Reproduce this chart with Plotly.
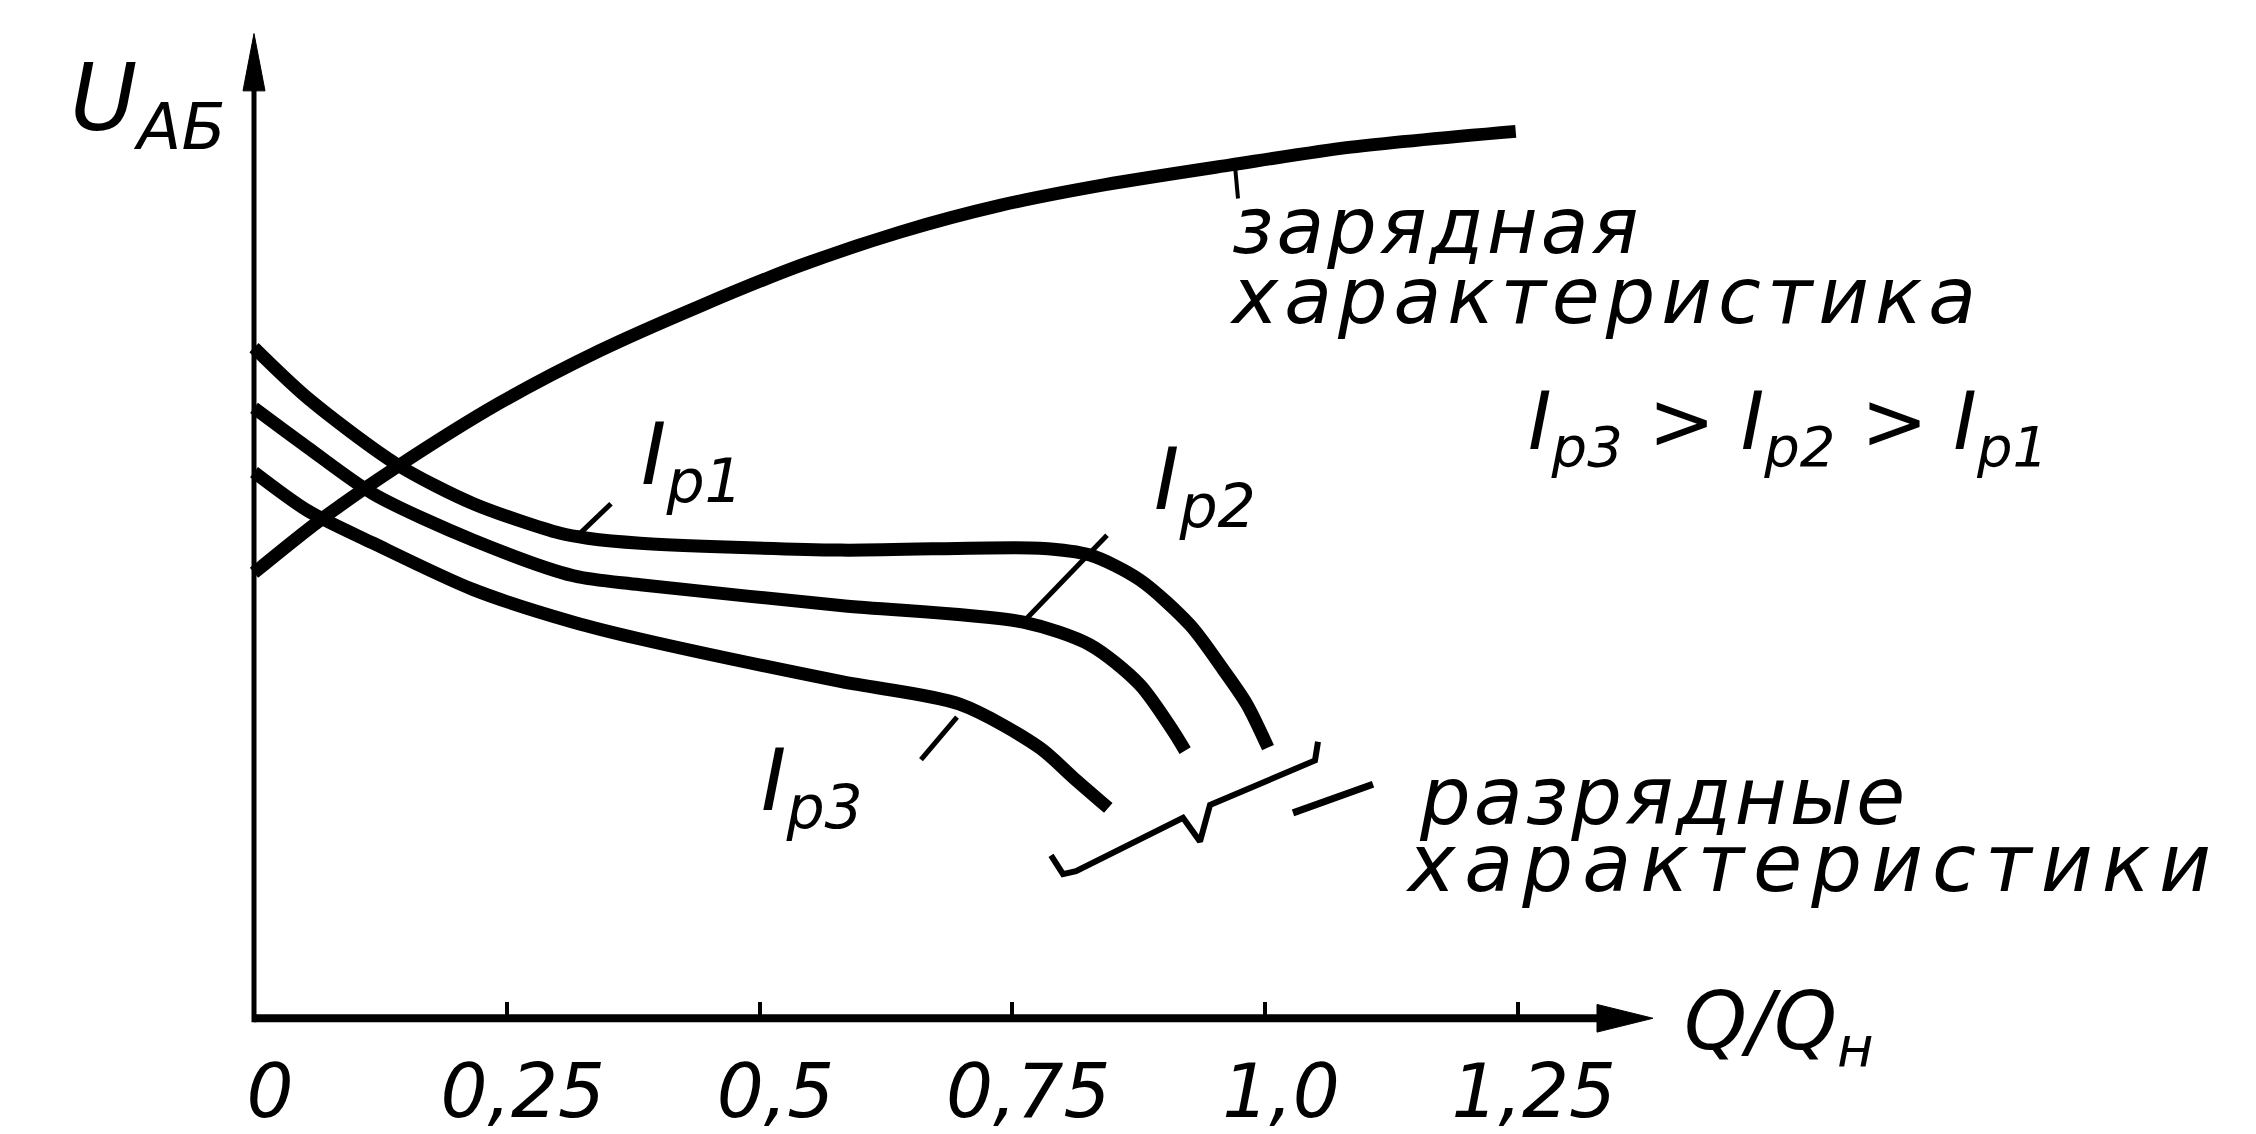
import plotly.graph_objects as go

# ---------------- data ----------------
# x: Q/Qн (relative charge), y: U_АБ in relative units (axis has no scale)
charge_q = [0.0, 0.065, 0.141, 0.243, 0.342, 0.441, 0.540, 0.639, 0.738, 0.842, 0.966, 1.085, 1.248]
charge_u = [4.51, 5.04, 5.58, 6.23, 6.76, 7.21, 7.62, 7.96, 8.23, 8.44, 8.64, 8.82, 8.98]

ip1_q = [0.0, 0.053, 0.141, 0.217, 0.303, 0.33, 0.382, 0.58, 0.777, 0.827, 0.876, 0.926, 0.958, 0.982, 1.003]
ip1_u = [6.79, 6.28, 5.61, 5.21, 4.91, 4.86, 4.81, 4.74, 4.76, 4.69, 4.44, 3.98, 3.54, 3.18, 2.74]

ip2_q = [0.0, 0.053, 0.118, 0.217, 0.316, 0.382, 0.58, 0.761, 0.827, 0.876, 0.909, 0.921]
ip2_u = [6.18, 5.78, 5.31, 4.84, 4.48, 4.39, 4.18, 4.01, 3.78, 3.38, 2.91, 2.71]

ip3_q = [0.0, 0.053, 0.118, 0.217, 0.316, 0.382, 0.58, 0.698, 0.777, 0.81, 0.845]
ip3_u = [5.53, 5.14, 4.81, 4.34, 4.01, 3.84, 3.41, 3.18, 2.74, 2.44, 2.13]

x_ticks = [0, 0.25, 0.5, 0.75, 1.0, 1.25]
x_tick_labels = ["0", "0,25", "0,5", "0,75", "1,0", "1,25"]

# ---------------- layout helpers (pixel geometry) ----------------
W, H = 2256, 1134
X0_PX, X_UNIT_PX = 254, 1011      # pixel of Q=0, pixels per unit of Q
Y0_PX, Y_UNIT_PX = 1031, 100      # pixel of U=0, pixels per unit of U


def px2x(px):
    return (px - X0_PX) / X_UNIT_PX


def py2y(py):
    return (Y0_PX - py) / Y_UNIT_PX


FONT = "DejaVu Sans"
BLACK = "black"

fig = go.Figure()

# curves
for q, u in [(charge_q, charge_u), (ip1_q, ip1_u), (ip2_q, ip2_u), (ip3_q, ip3_u)]:
    fig.add_trace(go.Scatter(x=q, y=u, mode="lines",
                             line=dict(color=BLACK, width=13, shape="spline", smoothing=0.8),
                             hoverinfo="skip", showlegend=False))

# axes lines with arrowheads
x_tip_px, y_tip_py = 1653, 34
fig.add_trace(go.Scatter(x=[0, px2x(x_tip_px - 40)], y=[0, 0], mode="lines",
                         line=dict(color=BLACK, width=8), hoverinfo="skip", showlegend=False))
fig.add_trace(go.Scatter(x=[0, 0], y=[py2y(Y0_PX + 4), py2y(y_tip_py + 40)], mode="lines",
                         line=dict(color=BLACK, width=5), hoverinfo="skip", showlegend=False))
fig.add_trace(go.Scatter(x=[px2x(x_tip_px), px2x(x_tip_px - 56), px2x(x_tip_px - 56), px2x(x_tip_px)],
                         y=[0, 0.14, -0.14, 0], mode="lines", fill="toself", fillcolor=BLACK,
                         line=dict(color=BLACK, width=1), hoverinfo="skip", showlegend=False))
fig.add_trace(go.Scatter(x=[0, px2x(X0_PX - 11), px2x(X0_PX + 11), 0],
                         y=[py2y(y_tip_py), py2y(y_tip_py + 58), py2y(y_tip_py + 58), py2y(y_tip_py)],
                         mode="lines", fill="toself", fillcolor=BLACK,
                         line=dict(color=BLACK, width=1), hoverinfo="skip", showlegend=False))

# leader lines and brace (pixel geometry of the drawing)
leaders_px = [
    ([579, 611], [541, 510], 5),            # Ip1
    ([1023, 1107], [630, 542], 5),          # Ip2
    ([957, 921], [726, 769], 5),            # Ip3
    ([1235, 1238], [168, 201], 4),          # charge label
    ([1051, 1063, 1076, 1183, 1200, 1210, 1315, 1318], [866, 885, 882, 828, 852, 815, 770, 751], 6),  # brace
    ([1293, 1373], [823, 794], 7),          # dash to "разрядные"
]
for xs, ys, w in leaders_px:
    fig.add_trace(go.Scatter(x=[px2x(v) for v in xs], y=[py2y(v) for v in ys], mode="lines",
                             line=dict(color=BLACK, width=w), hoverinfo="skip", showlegend=False))


def label(text, cx, cy, size, xanchor="center", spacing=0):
    if spacing:
        text = '<span style="letter-spacing:%dpx">%s</span>' % (spacing, text)
    fig.add_annotation(x=cx / W, y=1 - cy / H, xref="paper", yref="paper", text=text,
                       showarrow=False, xanchor=xanchor, yanchor="middle",
                       font=dict(family=FONT, size=size, color=BLACK, style="italic"))


label("U<sub>АБ</sub>", 148, 106, 92)
label("I<sub>р1</sub>", 692, 466, 86)
label("I<sub>р2</sub>", 1205, 491, 86)
label("I<sub>р3</sub>", 812, 796, 86)
label("I<sub>р3</sub> > I<sub>р2</sub> > I<sub>р1</sub>", 1788, 432, 80)
label("зарядная", 1230, 229, 78, "left", 3)
label("характеристика", 1227, 300, 78, "left", 6)
label("разрядные", 1417, 806, 80, "left", 3)
label("характеристики", 1403, 874, 80, "left", 9)
label("Q/Q<sub>н</sub>", 1779, 1040, 80)

fig.update_layout(
    width=W, height=H,
    margin=dict(l=0, r=0, t=0, b=0),
    paper_bgcolor="white", plot_bgcolor="white",
    showlegend=False,
    xaxis=dict(range=[px2x(0), px2x(W)], tickvals=x_ticks, ticktext=x_tick_labels,
               ticks="inside", ticklen=16, tickwidth=4, tickcolor=BLACK,
               showline=False, showgrid=False, zeroline=False,
               anchor="free", position=(H - Y0_PX) / H,
               ticklabelstandoff=24, ticklabelshift=16,
               tickfont=dict(family=FONT, size=74, color=BLACK, style="italic"),
               fixedrange=True),
    yaxis=dict(range=[py2y(H), py2y(0)], visible=False, fixedrange=True),
)

fig.write_html("out.html", config={"displayModeBar": False},
               post_script="document.body.style.margin='0';document.body.style.overflow='hidden';")
